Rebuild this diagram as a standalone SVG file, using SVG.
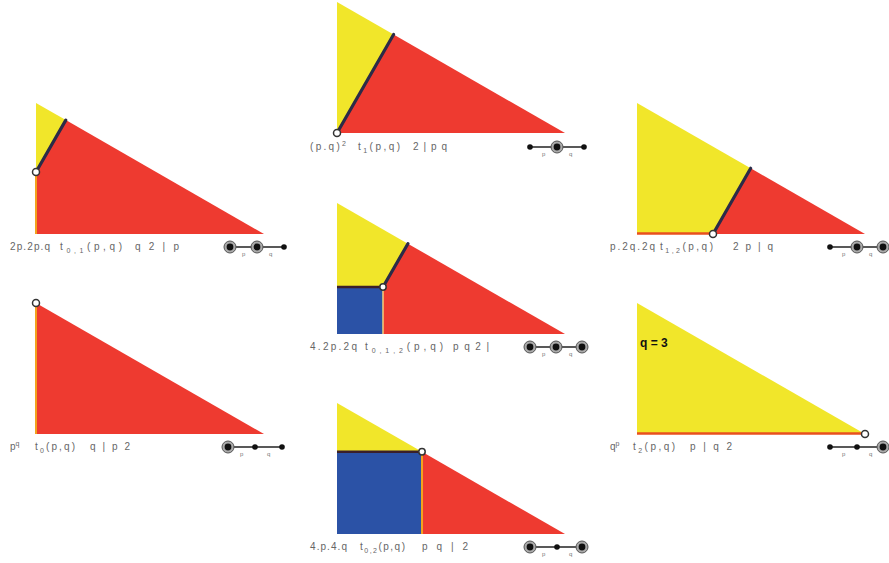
<svg xmlns="http://www.w3.org/2000/svg" xmlns:xlink="http://www.w3.org/1999/xlink" width="889" height="563" viewBox="0 0 889 563">
<style>
.y{fill:#f1e62a}
.r{fill:#ee3a30}
.b{fill:#2b52a6}
.dk{stroke:#2b2b48;stroke-width:3.2;stroke-linecap:round;fill:none}
.dh{stroke:#3a1f2a;stroke-width:2.6;fill:none}
.or{stroke:#f2a21e;stroke-width:2;fill:none}
.orr{stroke:#e8501e;stroke-width:2.6;fill:none}
.pt{fill:#fff;stroke:#333;stroke-width:1.5}
.lb{font-family:"Liberation Sans",Arial,sans-serif;font-size:10px;fill:#666}
.sm{font-size:7px}
.ed{stroke:#222;stroke-width:1.3}
.el{font-family:"Liberation Sans",Arial,sans-serif;font-size:6px;fill:#777}
</style>
<defs>
<g id="ring"><circle r="6" fill="#aaa" stroke="#555" stroke-width="1"/><circle r="3.4" fill="#111"/></g>
<g id="dot"><circle r="2.8" fill="#111"/></g>
<g id="cx"><line class="ed" x1="0" y1="0" x2="54" y2="0"/><text class="el" x="12" y="9">p</text><text class="el" x="39" y="9">q</text></g>
</defs>

<g id="t01">
<polygon class="y" points="36,103 65.8,120.1 36,172"/>
<polygon class="r" points="36,172 65.8,120.1 264,234 36,234"/>
<line class="or" x1="36" y1="172" x2="36" y2="234"/>
<line class="dk" x1="36" y1="172" x2="65.8" y2="120.1"/>
<circle class="pt" cx="36" cy="172" r="3.5"/>
<text class="lb" x="10" y="250" textLength="40">2p.2p.q</text>
<text class="lb" x="60" y="250" textLength="62">t<tspan class="sm" dy="3">0,1</tspan><tspan dy="-3">(p,q)</tspan></text>
<text class="lb" x="135" y="250" textLength="44">q 2 | p</text>
<g transform="translate(230,247)"><use xlink:href="#cx"/><use xlink:href="#ring"/><use xlink:href="#ring" x="27"/><use xlink:href="#dot" x="54"/></g>
</g>

<g id="t1">
<polygon class="y" points="337,2 393.6,34.5 337,133"/>
<polygon class="r" points="337,133 393.6,34.5 565,133"/>
<line class="dk" x1="337" y1="133" x2="393.6" y2="34.5"/>
<circle class="pt" cx="337" cy="133" r="3.5"/>
<text class="lb" x="310" y="150" textLength="36">(p.q)<tspan class="sm" dy="-4">2</tspan></text>
<text class="lb" x="358" y="150" textLength="42">t<tspan class="sm" dy="3">1</tspan><tspan dy="-3">(p,q)</tspan></text>
<text class="lb" x="413" y="150" textLength="34">2 | p q</text>
<g transform="translate(530,147)"><use xlink:href="#cx"/><use xlink:href="#dot"/><use xlink:href="#ring" x="27"/><use xlink:href="#dot" x="54"/></g>
</g>

<g id="t12">
<polygon class="y" points="637,103 750.7,168.3 713,234 637,234"/>
<polygon class="r" points="750.7,168.3 865,234 713,234"/>
<line class="orr" x1="637" y1="233.5" x2="713" y2="233.5"/>
<line class="dk" x1="713" y1="234" x2="750.7" y2="168.3"/>
<circle class="pt" cx="713" cy="234" r="3.5"/>
<text class="lb" x="610" y="250" textLength="45">p.2q.2q</text>
<text class="lb" x="660" y="250" textLength="53">t<tspan class="sm" dy="3">1,2</tspan><tspan dy="-3">(p,q)</tspan></text>
<text class="lb" x="733" y="250" textLength="40">2 p | q</text>
<g transform="translate(830,247)"><use xlink:href="#cx"/><use xlink:href="#dot"/><use xlink:href="#ring" x="27"/><use xlink:href="#ring" x="53"/></g>
</g>

<g id="t012">
<polygon class="y" points="337,203 407.9,243.7 383,287 337,287"/>
<rect class="b" x="337" y="287" width="46" height="47"/>
<polygon class="r" points="407.9,243.7 565,334 383,334 383,287"/>
<line class="dh" x1="337" y1="287" x2="383" y2="287"/>
<line x1="383" y1="287" x2="383" y2="334" stroke="#f4d27a" stroke-width="1.5"/>
<line class="dk" x1="383" y1="287" x2="407.9" y2="243.7"/>
<circle class="pt" cx="383" cy="287" r="3.2"/>
<text class="lb" x="310" y="350" textLength="47">4.2p.2q</text>
<text class="lb" x="365" y="350" textLength="78">t<tspan class="sm" dy="3">0,1,2</tspan><tspan dy="-3">(p,q)</tspan></text>
<text class="lb" x="453" y="350" textLength="36">p q 2 |</text>
<g transform="translate(530,347)"><use xlink:href="#cx"/><use xlink:href="#ring"/><use xlink:href="#ring" x="26"/><use xlink:href="#ring" x="52"/></g>
</g>

<g id="t0">
<polygon class="r" points="36,303 264,434 36,434"/>
<line class="or" x1="36" y1="303" x2="36" y2="434"/>
<circle class="pt" cx="36" cy="303" r="3.5"/>
<text class="lb" x="10" y="450">p<tspan class="sm" dy="-4">q</tspan></text>
<text class="lb" x="35" y="450" textLength="40">t<tspan class="sm" dy="3">0</tspan><tspan dy="-3">(p,q)</tspan></text>
<text class="lb" x="90" y="450" textLength="40">q | p 2</text>
<g transform="translate(228,447)"><use xlink:href="#cx"/><use xlink:href="#ring"/><use xlink:href="#dot" x="27"/><use xlink:href="#dot" x="54"/></g>
</g>

<g id="t2">
<polygon class="y" points="637,303 865,434 637,434"/>
<line class="orr" x1="637" y1="433.5" x2="865" y2="433.5"/>
<circle class="pt" cx="865" cy="434" r="3.5"/>
<text x="640" y="347" font-family="Liberation Sans,Arial,sans-serif" font-size="12" font-weight="bold" fill="#111">q = 3</text>
<text class="lb" x="610" y="450">q<tspan class="sm" dy="-4">p</tspan></text>
<text class="lb" x="633" y="450" textLength="42">t<tspan class="sm" dy="3">2</tspan><tspan dy="-3">(p,q)</tspan></text>
<text class="lb" x="690" y="450" textLength="42">p | q 2</text>
<g transform="translate(830,447)"><use xlink:href="#cx"/><use xlink:href="#dot"/><use xlink:href="#dot" x="27"/><use xlink:href="#ring" x="53"/></g>
</g>

<g id="t02">
<polygon class="y" points="337,403 422,451.8 337,451.8"/>
<rect class="b" x="337" y="451.8" width="85" height="82.2"/>
<polygon class="r" points="422,451.8 565,534 422,534"/>
<line class="dh" x1="337" y1="451.8" x2="422" y2="451.8"/>
<line class="or" x1="422" y1="451.8" x2="422" y2="534"/>
<circle class="pt" cx="422" cy="451.8" r="3.2"/>
<text class="lb" x="310" y="550" textLength="37">4.p.4.q</text>
<text class="lb" x="360" y="550" textLength="45">t<tspan class="sm" dy="3">0,2</tspan><tspan dy="-3">(p,q)</tspan></text>
<text class="lb" x="422" y="550" textLength="46">p q | 2</text>
<g transform="translate(530,547)"><use xlink:href="#cx"/><use xlink:href="#ring"/><use xlink:href="#dot" x="27"/><use xlink:href="#ring" x="52"/></g>
</g>
</svg>
